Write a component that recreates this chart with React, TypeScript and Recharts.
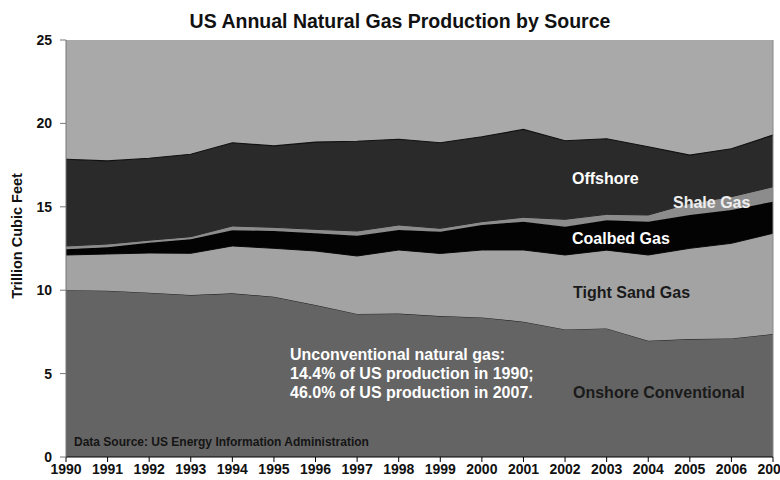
import React from 'react';
import { AreaChart, Area, XAxis, YAxis, CartesianGrid, ReferenceLine } from 'recharts';

const years = [1990, 1991, 1992, 1993, 1994, 1995, 1996, 1997, 1998, 1999, 2000, 2001, 2002, 2003, 2004, 2005, 2006, 2007];
const onshoreConventional = [10.0, 9.97, 9.85, 9.71, 9.81, 9.61, 9.11, 8.58, 8.6, 8.45, 8.37, 8.11, 7.65, 7.71, 6.97, 7.07, 7.11, 7.37];
const tightSandGas = [2.11, 2.2, 2.38, 2.5, 2.84, 2.9, 3.24, 3.47, 3.81, 3.75, 4.04, 4.3, 4.46, 4.69, 5.14, 5.44, 5.7, 6.04];
const coalbedGas = [0.34, 0.4, 0.62, 0.84, 0.95, 1.04, 1.06, 1.22, 1.2, 1.31, 1.5, 1.7, 1.7, 1.8, 2.0, 2.0, 2.0, 1.9];
const shaleGas = [0.2, 0.2, 0.15, 0.16, 0.25, 0.22, 0.24, 0.28, 0.3, 0.2, 0.2, 0.26, 0.44, 0.35, 0.4, 0.7, 0.8, 0.89];
const offshore = [5.2, 4.98, 4.91, 4.94, 4.99, 4.88, 5.23, 5.38, 5.14, 5.13, 5.09, 5.27, 4.71, 4.53, 4.09, 2.89, 2.87, 3.1];
const yTicks = [0, 5, 10, 15, 20, 25];

const data = years.map((year, i) => ({
  year,
  onshore: onshoreConventional[i],
  tight: tightSandGas[i],
  coalbed: coalbedGas[i],
  shale: shaleGas[i],
  offshore: offshore[i],
}));

const FONT = '"Liberation Sans", Arial, Helvetica, sans-serif';

export default function App() {
  const tickStyle = { fill: '#111', fontSize: 14, fontWeight: 'bold' as const, fontFamily: FONT };
  return (
    <div style={{ position: 'absolute', left: 0, top: 0, width: 780, height: 480, background: '#fff' }}>
      <AreaChart width={780} height={480} data={data} margin={{ top: 40, right: 7, bottom: 3, left: 0 }}>
        <CartesianGrid horizontal={false} vertical={false} fill="#a9a9a9" stroke="none" />
        <XAxis
          dataKey="year"
          type="number"
          domain={[1990, 2007]}
          ticks={years}
          interval={0}
          height={20}
          tickSize={5}
          tickMargin={2}
          stroke="#000"
          tick={tickStyle}
        />
        <YAxis
          type="number"
          domain={[0, 25]}
          ticks={yTicks}
          width={66}
          tickSize={6}
          tickMargin={8}
          stroke="#777"
          tick={tickStyle}
        />
        <Area type="linear" dataKey="onshore" stackId="1" fill="#646464" stroke="#1a1a1a" strokeWidth={1} fillOpacity={1} isAnimationActive={false} />
        <Area type="linear" dataKey="tight" stackId="1" fill="#a3a3a3" stroke="#111" strokeWidth={1} fillOpacity={1} isAnimationActive={false} />
        <Area type="linear" dataKey="coalbed" stackId="1" fill="#030303" stroke="#000" strokeWidth={1} fillOpacity={1} isAnimationActive={false} />
        <Area type="linear" dataKey="shale" stackId="1" fill="#8c8c8c" stroke="#222" strokeWidth={1} fillOpacity={1} isAnimationActive={false} />
        <Area type="linear" dataKey="offshore" stackId="1" fill="#2a2a2a" stroke="#111" strokeWidth={1.2} fillOpacity={1} isAnimationActive={false} />
        <ReferenceLine x={2007} stroke="#888" strokeWidth={1} />
      </AreaChart>
      <svg
        width={780}
        height={480}
        style={{ position: 'absolute', left: 0, top: 0, pointerEvents: 'none' }}
        fontFamily={FONT}
        fontWeight="bold"
      >
        <text x={400} y={28} textAnchor="middle" fontSize={19.5} fill="#111">
          US Annual Natural Gas Production by Source
        </text>
        <text x={22} y={236} textAnchor="middle" fontSize={14.5} fill="#111" transform="rotate(-90, 22, 236)">
          Trillion Cubic Feet
        </text>
        <text x={572} y={184} fontSize={16} fill="#fff">Offshore</text>
        <text x={673} y={208} fontSize={16} fill="#eee">Shale Gas</text>
        <text x={572} y={244} fontSize={16} fill="#fff">Coalbed Gas</text>
        <text x={573} y={298} fontSize={16} fill="#1a1a1a">Tight Sand Gas</text>
        <text x={573} y={398} fontSize={16} fill="#1a1a1a">Onshore Conventional</text>
        <text x={290} y={360} fontSize={16} fill="#fff">Unconventional natural gas:</text>
        <text x={290} y={379} fontSize={16} fill="#fff">14.4% of US production in 1990;</text>
        <text x={290} y={398} fontSize={16} fill="#fff">46.0% of US production in 2007.</text>
        <text x={74} y={446} fontSize={12} fill="#151515">Data Source: US Energy Information Administration</text>
      </svg>
    </div>
  );
}
